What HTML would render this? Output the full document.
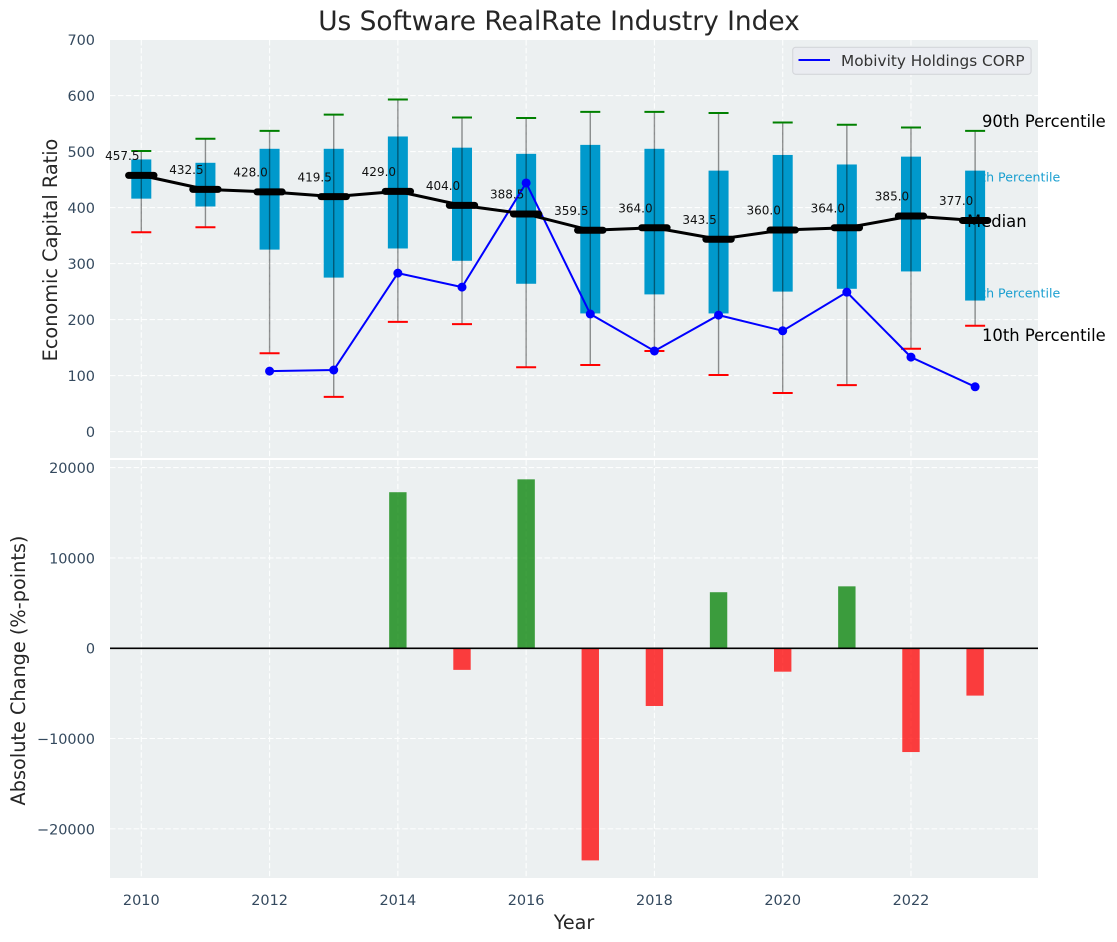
<!DOCTYPE html>
<html>
<head>
<meta charset="utf-8">
<title>Us Software RealRate Industry Index</title>
<style>
html,body{margin:0;padding:0;background:#fff;}
svg{display:block;}
text{font-family:"DejaVu Sans","Liberation Sans",sans-serif;}
</style>
</head>
<body>
<svg id="chart" xmlns="http://www.w3.org/2000/svg" width="1117" height="942" viewBox="0 0 1117 942"></svg>
<script>
const years = [2010,2011,2012,2013,2014,2015,2016,2017,2018,2019,2020,2021,2022,2023];
const medians = [457.5,432.5,428.0,419.5,429.0,404.0,388.5,359.5,364.0,343.5,360.0,364.0,385.0,377.0];
const p75 = [486,480,505,505,527,507,496,512,505,466,494,477,491,466];
const p25 = [416,402,325,275,327,305,264,211,245,211,250,255,286,234];
const p90 = [501,523,537,566,593,561,560,571,571,569,552,548,543,537];
const p10 = [356,365,140,62,196,192,115,119,144,101,69,83,148,189];
const companyYears = [2012,2013,2014,2015,2016,2017,2018,2019,2020,2021,2022,2023];
const companyValues = [108,110,283,258,444,210,144,208,180,249,133,80];
const changeYears = [2014,2015,2016,2017,2018,2019,2020,2021,2022,2023];
const changeValues = [17275,-2400,18700,-23500,-6400,6200,-2600,6850,-11500,-5250];
const xTicks = [2010,2012,2014,2016,2018,2020,2022];
const topTicks = [0,100,200,300,400,500,600,700];
const bottomTicks = [-20000,-10000,0,10000,20000];

const svg = document.getElementById('chart');
const NS = 'http://www.w3.org/2000/svg';
const L = 110, R = 1038, T1 = 40, B1 = 458, T2 = 460, B2 = 878;
const x = v => 141.3 + (v - 2010) * 64.14;
const y1 = v => 431.6 - v * 0.56;
const y2 = v => 648.2 - v * 0.00903;
const tickColor = '#34495e';
const inkColor = '#262626';

function mk(tag, attrs, parent, text) {
  const el = document.createElementNS(NS, tag);
  for (const k in attrs) el.setAttribute(k, attrs[k]);
  if (text !== undefined) el.textContent = text;
  (parent || svg).appendChild(el);
  return el;
}
function group(name) {
  const g = document.createElementNS(NS, 'g');
  
  
  svg.appendChild(g);
  return g;
}
function fmt(v) {
  return (v < 0 ? '\u2212' : '') + Math.abs(v);
}

/* panels */
const p1 = mk('rect', {x: L, y: T1, width: R - L, height: B1 - T1, fill: '#ecf0f1'});


const p2 = mk('rect', {x: L, y: T2, width: R - L, height: B2 - T2, fill: '#ecf0f1'});



/* grid */
const gridG = group('grid-lines');
const gridStyle = {stroke: '#ffffff', 'stroke-width': 1.1, 'stroke-dasharray': '5.5 2.4', 'stroke-opacity': 0.9};
xTicks.forEach(t => {
  mk('line', {x1: x(t), x2: x(t), y1: T1, y2: B1, ...gridStyle}, gridG);
  mk('line', {x1: x(t), x2: x(t), y1: T2, y2: B2, ...gridStyle}, gridG);
});
topTicks.filter(t => t < 700).forEach(t => mk('line', {x1: L, x2: R, y1: y1(t), y2: y1(t), ...gridStyle}, gridG));
bottomTicks.forEach(t => mk('line', {x1: L, x2: R, y1: y2(t), y2: y2(t), ...gridStyle}, gridG));

/* tick labels */
const tickG = group('tick-labels');
topTicks.forEach(t => {
  const el = mk('text', {x: 95, y: y1(t) + 5.5, 'text-anchor': 'end', 'font-size': 14.45, fill: tickColor}, tickG, fmt(t));
  
  
});
bottomTicks.forEach(t => {
  const el = mk('text', {x: 95, y: y2(t) + 5.5, 'text-anchor': 'end', 'font-size': 14.45, fill: tickColor}, tickG, fmt(t));
  
  
});
xTicks.forEach(t => {
  const el = mk('text', {x: x(t), y: 905, 'text-anchor': 'middle', 'font-size': 14.45, fill: tickColor}, tickG, String(t));
  
  
});

/* percentile annotation text under the boxes */
const lastIdx = years.length - 1;
const midLabelColor = '#1a9fd0';
const t75 = mk('text', {x: x(years[lastIdx]) - 10, y: y1(p75[lastIdx]) + 11, 'font-size': 12.6, fill: midLabelColor}, svg, '75th Percentile');


const t25 = mk('text', {x: x(years[lastIdx]) - 10, y: y1(p25[lastIdx]) - 3, 'font-size': 12.6, fill: midLabelColor}, svg, '25th Percentile');



/* percentile boxes */
const boxG = group('percentile-boxes');
years.forEach((yr, i) => {
  const el = mk('rect', {x: x(yr) - 10, width: 20, y: y1(p75[i]), height: y1(p25[i]) - y1(p75[i]), fill: '#0099cc'}, boxG);
  
  
});

/* whiskers and caps */
const whiskerG = group('whiskers');
years.forEach((yr, i) => {
  const w = mk('line', {x1: x(yr), x2: x(yr), y1: y1(p90[i]), y2: y1(p10[i]), stroke: '#000', 'stroke-opacity': 0.42, 'stroke-width': 1.4}, whiskerG);
  
  
  const hi = mk('line', {x1: x(yr) - 10, x2: x(yr) + 10, y1: y1(p90[i]), y2: y1(p90[i]), stroke: '#008000', 'stroke-width': 2}, whiskerG);
  
  
  const lo = mk('line', {x1: x(yr) - 10, x2: x(yr) + 10, y1: y1(p10[i]), y2: y1(p10[i]), stroke: '#ff0000', 'stroke-width': 2}, whiskerG);
  
  
});

/* company line */
const compG = group('company-series');
const compPath = mk('polyline', {
  points: companyYears.map((yr, i) => x(yr) + ',' + y1(companyValues[i])).join(' '),
  fill: 'none', stroke: '#0000ff', 'stroke-width': 2
}, compG);


companyYears.forEach((yr, i) => {
  const c = mk('circle', {cx: x(yr), cy: y1(companyValues[i]), r: 4.5, fill: '#0000ff'}, compG);
  
  
});

/* median line */
const medG = group('median-series');
const medPath = mk('polyline', {
  points: years.map((yr, i) => x(yr) + ',' + y1(medians[i])).join(' '),
  fill: 'none', stroke: '#000', 'stroke-width': 3
}, medG);


years.forEach((yr, i) => {
  const m = mk('line', {x1: x(yr) - 12.7, x2: x(yr) + 12.7, y1: y1(medians[i]), y2: y1(medians[i]), stroke: '#000', 'stroke-width': 7, 'stroke-linecap': 'round'}, medG);
  
  
  const lb = mk('text', {x: x(yr) - 19, y: y1(medians[i]) - 15.3, 'text-anchor': 'middle', 'font-size': 12, fill: '#111'}, medG, medians[i].toFixed(1));
  
  
});

/* outer percentile annotation text */
const t90 = mk('text', {x: 982, y: 127, 'font-size': 16.4, fill: '#000'}, svg, '90th Percentile');


const tMed = mk('text', {x: 967, y: 227, 'font-size': 16.4, fill: '#000'}, svg, 'Median');


const t10 = mk('text', {x: 982, y: 341, 'font-size': 16.4, fill: '#000'}, svg, '10th Percentile');



/* change bars */
const barG = group('change-bars');
changeYears.forEach((yr, i) => {
  const v = changeValues[i];
  const top = Math.min(y2(v), y2(0));
  const el = mk('rect', {x: x(yr) - 8.7, width: 17.4, y: top, height: Math.abs(y2(v) - y2(0)), fill: v >= 0 ? '#008000' : '#ff0000', 'fill-opacity': 0.75}, barG);
  
  
});
const zero = mk('line', {x1: L, x2: R, y1: y2(0) + 0.1, y2: y2(0) + 0.1, stroke: '#000', 'stroke-width': 1.6});



/* legend */
const legG = group('legend');
mk('rect', {x: 792.7, y: 47.3, width: 238.4, height: 27, rx: 3, fill: '#eaecf1', stroke: '#d4d6da', 'stroke-width': 1.1}, legG);
const legLine = mk('line', {x1: 798.5, x2: 830, y1: 60, y2: 60, stroke: '#0000ff', 'stroke-width': 2}, legG);


const legText = mk('text', {x: 841, y: 66, 'font-size': 15.3, fill: '#333'}, legG, 'Mobivity Holdings CORP');



/* titles */
const title = mk('text', {x: 559, y: 30, 'text-anchor': 'middle', 'font-size': 26.4, fill: inkColor}, svg, 'Us Software RealRate Industry Index');


const xt = mk('text', {x: 574, y: 929, 'text-anchor': 'middle', 'font-size': 19.2, fill: inkColor}, svg, 'Year');


const yt1 = mk('text', {transform: 'translate(57,250) rotate(-90)', 'text-anchor': 'middle', 'font-size': 19.3, fill: inkColor}, svg, 'Economic Capital Ratio');


const yt2 = mk('text', {transform: 'translate(25,670.5) rotate(-90)', 'text-anchor': 'middle', 'font-size': 19.3, fill: inkColor}, svg, 'Absolute Change (%-points)');


</script>
</body>
</html>
